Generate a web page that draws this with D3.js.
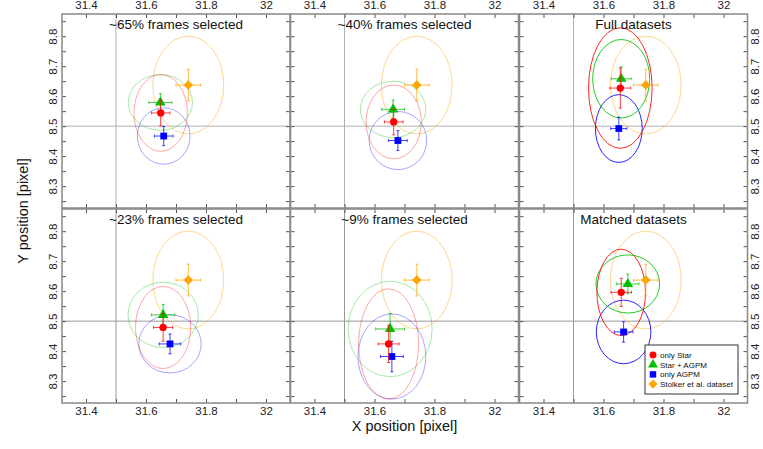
<!DOCTYPE html>
<html>
<head>
<meta charset="utf-8">
<script src="https://cdn.jsdelivr.net/npm/d3@7"></script>
<style>
  body { margin: 0; background: #fff; }
  svg { font-family: "Liberation Sans", Arial, sans-serif; }
</style>
</head>
<body>
<svg id="chart" width="763" height="449"></svg>
<script>
// panel titles, in reading order (top row then bottom row)
var panelTitles = ["~65% frames selected", "~40% frames selected", "Full datasets",
                   "~23% frames selected", "~9% frames selected", "Matched datasets"];

var seriesNames = ["only Star", "Star + AGPM", "only AGPM", "Stolker et al. dataset"];

// one row per panel: x, y, x error, y error, ellipse half-width, ellipse half-height
var onlyStar = [
    [31.649, 8.544, 0.031, 0.043, 0.089, 0.128],
    [31.664, 8.514, 0.031, 0.043, 0.092, 0.123],
    [31.656, 8.627, 0.035, 0.067, 0.106, 0.201],
    [31.657, 8.479, 0.032, 0.046, 0.092, 0.137],
    [31.647, 8.424, 0.035, 0.062, 0.100, 0.184],
    [31.659, 8.596, 0.034, 0.047, 0.081, 0.144]
];
var starAgpm = [
    [31.648, 8.579, 0.038, 0.029, 0.107, 0.093],
    [31.662, 8.556, 0.038, 0.031, 0.109, 0.094],
    [31.659, 8.658, 0.033, 0.040, 0.095, 0.131],
    [31.657, 8.521, 0.039, 0.035, 0.117, 0.109],
    [31.652, 8.474, 0.048, 0.051, 0.140, 0.159],
    [31.681, 8.624, 0.037, 0.033, 0.106, 0.097]
];
var onlyAgpm = [
    [31.659, 8.467, 0.031, 0.032, 0.088, 0.094],
    [31.678, 8.452, 0.031, 0.033, 0.096, 0.097],
    [31.651, 8.492, 0.027, 0.038, 0.078, 0.113],
    [31.680, 8.424, 0.036, 0.033, 0.104, 0.097],
    [31.658, 8.382, 0.038, 0.051, 0.113, 0.142],
    [31.667, 8.464, 0.031, 0.034, 0.091, 0.106]
];
var stolker = [
    [31.741, 8.637, 0.041, 0.053, 0.118, 0.163],
    [31.741, 8.637, 0.041, 0.053, 0.118, 0.163],
    [31.741, 8.637, 0.041, 0.053, 0.118, 0.163],
    [31.741, 8.637, 0.041, 0.053, 0.118, 0.163],
    [31.741, 8.637, 0.041, 0.053, 0.118, 0.163],
    [31.741, 8.637, 0.041, 0.053, 0.118, 0.163]
];

var xDomain = [31.32, 32.08];
var yDomain = [8.227, 8.874];
var xRef = 31.5, yRef = 8.5;
var xTicks = [31.4, 31.5, 31.6, 31.7, 31.8, 31.9, 32.0];
var xLabels = [31.4, 31.6, 31.8, 32.0];
var yTicks = [8.25, 8.3, 8.35, 8.4, 8.45, 8.5, 8.55, 8.6, 8.65, 8.7, 8.75, 8.8, 8.85];
var yLabels = [8.3, 8.4, 8.5, 8.6, 8.7, 8.8];

// the diamond is a square turned by 45 degrees
var series = [
    {name: seriesNames[0], rows: onlyStar, color: "#ff0000", symbol: d3.symbolCircle, size: 42, turn: 0},
    {name: seriesNames[1], rows: starAgpm, color: "#00c000", symbol: d3.symbolTriangle, size: 48, turn: 0},
    {name: seriesNames[2], rows: onlyAgpm, color: "#0000ff", symbol: d3.symbolSquare, size: 46, turn: 0},
    {name: seriesNames[3], rows: stolker, color: "#ffa500", symbol: d3.symbolSquare, size: 46, turn: 45}
];

// the full and matched panels draw their ellipses strongly
var ellipseAlpha = [0.35, 0.35, 0.85, 0.35, 0.35, 0.85];

var panelLefts = [62, 290.5, 519.5];
var panelTops = [14, 209];
var panelW = 228, panelH = 194;

var svg = d3.select("#chart");

function fmt(v) {
    return d3.format(".1f")(v).replace(/\.0$/, "");
}

function isIn(list, v) {
    return list.some(function(d) { return Math.abs(d - v) < 1e-6; });
}

panelTitles.forEach(function(title, i) {
    var col = i % 3, row = Math.floor(i / 3);
    var left = panelLefts[col], top = panelTops[row];

    var x = d3.scaleLinear().domain(xDomain).range([left, left + panelW]);
    var y = d3.scaleLinear().domain(yDomain).range([top + panelH, top]);

    var g = svg.append("g").attr("class", "panel");

    // reference lines
    g.append("line")
        .attr("x1", x(xRef)).attr("x2", x(xRef))
        .attr("y1", top).attr("y2", top + panelH)
        .attr("stroke", row === 0 ? "#b0b0b0" : "#999").attr("stroke-width", 1);
    g.append("line")
        .attr("x1", left).attr("x2", left + panelW)
        .attr("y1", y(yRef)).attr("y2", y(yRef))
        .attr("stroke", row === 0 ? "#b0b0b0" : "#999").attr("stroke-width", 1);

    // axes with inward ticks on all four sides
    function xFormat(show) {
        return function(d) { return show && isIn(xLabels, d) ? fmt(d) : ""; };
    }
    function yFormat(show) {
        return function(d) { return show && isIn(yLabels, d) ? fmt(d) : ""; };
    }

    var axTop = g.append("g").attr("transform", "translate(0," + top + ")")
        .call(d3.axisTop(x).tickValues(xTicks).tickSizeInner(-4).tickSizeOuter(0)
            .tickPadding(5).tickFormat(xFormat(row === 0)));
    var axBot = g.append("g").attr("transform", "translate(0," + (top + panelH) + ")")
        .call(d3.axisBottom(x).tickValues(xTicks).tickSizeInner(-4).tickSizeOuter(0)
            .tickPadding(4).tickFormat(xFormat(row === 1)));
    var axLeft = g.append("g").attr("transform", "translate(" + left + ",0)")
        .call(d3.axisLeft(y).tickValues(yTicks).tickSizeInner(-4).tickSizeOuter(0)
            .tickFormat(yFormat(col === 0)));
    var axRight = g.append("g").attr("transform", "translate(" + (left + panelW) + ",0)")
        .call(d3.axisRight(y).tickValues(yTicks).tickSizeInner(-4).tickSizeOuter(0)
            .tickFormat(yFormat(col === 2)));

    [axTop, axBot, axLeft, axRight].forEach(function(ax) {
        ax.select(".domain").remove();
        ax.selectAll(".tick line").attr("stroke", "#555");
        ax.selectAll(".tick text").attr("fill", "#222").style("font-size", "11.5px")
            .style("font-family", "'Liberation Sans', Arial, sans-serif");
    });

    // y labels are turned to read upwards
    axLeft.selectAll(".tick text")
        .attr("x", null).attr("dy", null).attr("text-anchor", "middle")
        .attr("transform", "translate(-5,0) rotate(-90)");
    axRight.selectAll(".tick text")
        .attr("x", null).attr("dy", null).attr("text-anchor", "middle")
        .attr("transform", "translate(11,0) rotate(-90)");

    // ellipses first, then error bars and markers on top
    var kx = x(1) - x(0), ky = y(0) - y(1);
    series.slice().reverse().forEach(function(s) {
        var r = s.rows[i];
        var alpha = s.name === seriesNames[3] ? 0.45 : ellipseAlpha[i];
        g.append("ellipse")
            .attr("cx", x(r[0])).attr("cy", y(r[1]))
            .attr("rx", r[4] * kx).attr("ry", r[5] * ky)
            .attr("fill", "none").attr("stroke", s.color)
            .attr("stroke-opacity", alpha).attr("stroke-width", 1);
    });

    series.slice().reverse().forEach(function(s) {
        var r = s.rows[i];
        var cx = x(r[0]), cy = y(r[1]);
        var x0 = x(r[0] - r[2]), x1 = x(r[0] + r[2]);
        var y0 = y(r[1] - r[3]), y1 = y(r[1] + r[3]);
        var eb = g.append("g").attr("stroke", s.color).attr("stroke-opacity", 0.75)
            .attr("stroke-width", 1);
        eb.append("line").attr("x1", x0).attr("x2", x1).attr("y1", cy).attr("y2", cy);
        eb.append("line").attr("x1", cx).attr("x2", cx).attr("y1", y0).attr("y2", y1);
        [x0, x1].forEach(function(v) {
            eb.append("line").attr("x1", v).attr("x2", v).attr("y1", cy - 1.5).attr("y2", cy + 1.5);
        });
        [y0, y1].forEach(function(v) {
            eb.append("line").attr("x1", cx - 1.5).attr("x2", cx + 1.5).attr("y1", v).attr("y2", v);
        });
        g.append("path")
            .attr("d", d3.symbol().type(s.symbol).size(s.size)())
            .attr("transform", "translate(" + cx + "," + cy + ") rotate(" + s.turn + ")")
            .attr("fill", s.color);
    });

    // frame
    g.append("rect")
        .attr("x", left).attr("y", top).attr("width", panelW).attr("height", panelH)
        .attr("fill", "none").attr("stroke", "#888").attr("stroke-width", 1.5);

    g.append("text")
        .attr("x", left + panelW / 2).attr("y", top + 15)
        .attr("text-anchor", "middle").style("font-size", "13.5px").attr("fill", "#111")
        .text(title);
});

// legend inside the matched panel
var legend = svg.append("g").attr("transform", "translate(645,345)");
legend.append("rect").attr("width", 93).attr("height", 49)
    .attr("fill", "#fff").attr("stroke", "#333").attr("stroke-width", 1);
series.forEach(function(s, k) {
    var ly = 10 + k * 9.7;
    legend.append("path")
        .attr("d", d3.symbol().type(s.symbol).size(s.size * 0.9)())
        .attr("transform", "translate(8," + ly + ") rotate(" + s.turn + ")")
        .attr("fill", s.color);
    legend.append("text")
        .attr("x", 15).attr("y", ly + 2.8)
        .style("font-size", "8px").attr("fill", "#111")
        .text(s.name);
});

// axis titles
svg.append("text")
    .attr("x", 404.5).attr("y", 431)
    .attr("text-anchor", "middle").style("font-size", "14.5px").attr("fill", "#111")
    .text("X position [pixel]");
svg.append("text")
    .attr("transform", "translate(28,211) rotate(-90)")
    .attr("text-anchor", "middle").style("font-size", "14.5px").attr("fill", "#111")
    .text("Y position [pixel]");
</script>
</body>
</html>
